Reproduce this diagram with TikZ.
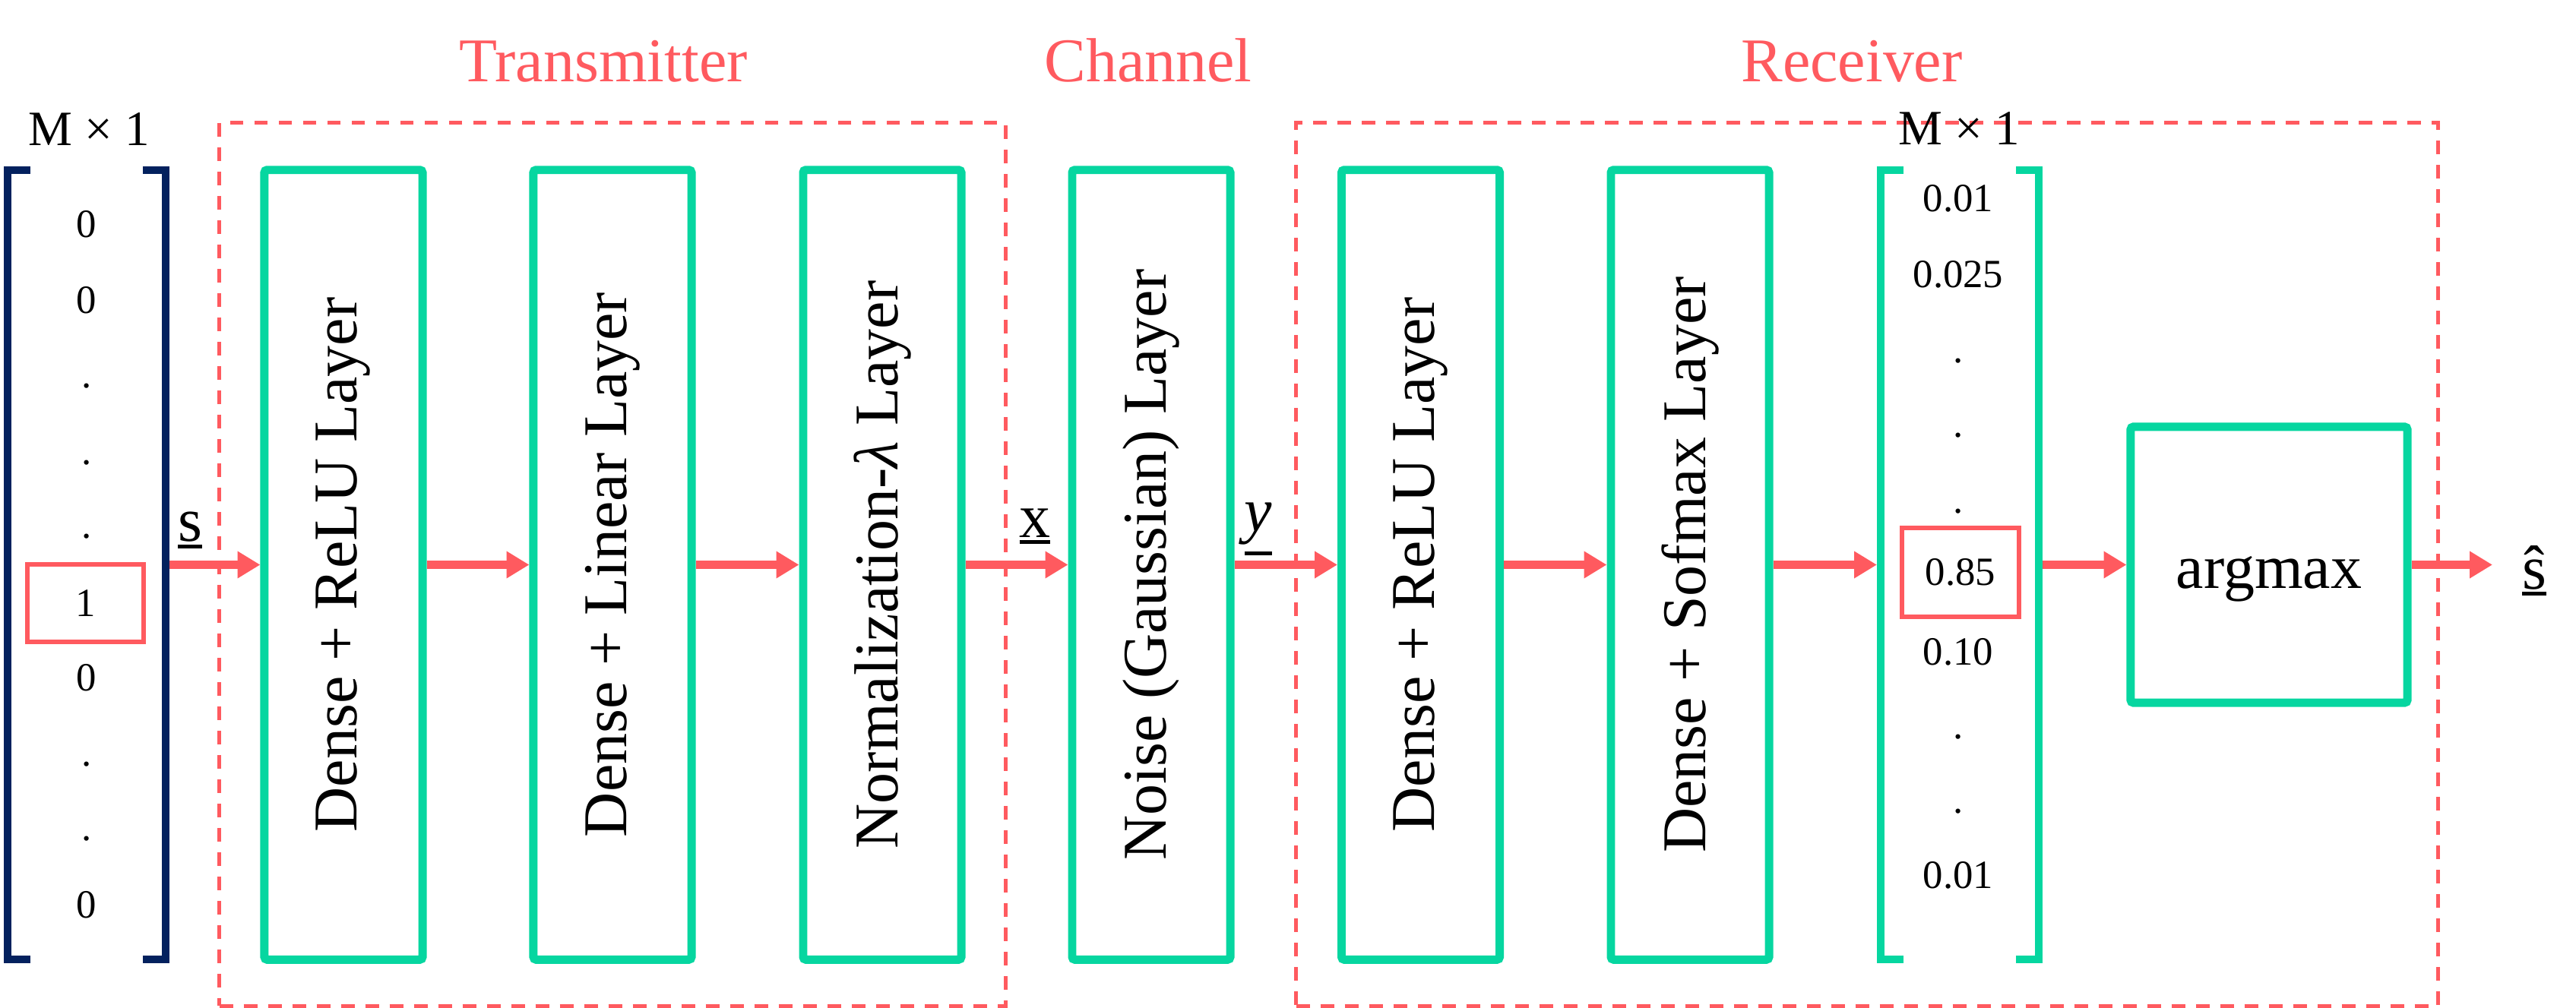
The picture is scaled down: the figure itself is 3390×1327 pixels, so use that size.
\documentclass[tikz,border=0pt]{standalone}
\usepackage{fontspec}
\usepackage{graphicx}
\setmainfont{Liberation Serif}
\usetikzlibrary{arrows.meta}
\definecolor{tgreen}{HTML}{06D6A0}
\definecolor{tred}{HTML}{FF5A5F}
\definecolor{tnavy}{HTML}{03215E}
\newcommand{\myul}[2][1.2pt]{\setbox0=\hbox{#2}\dimen0=\dp0 \advance\dimen0 by #1\relax\dimen2=\dimen0 \advance\dimen2 by 1.4pt\relax\leavevmode\rlap{\vrule height -\dimen0 depth \dimen2 width \wd0}\box0}
\newcommand{\shat}{\ooalign{s\cr\hidewidth\char"02C6\hidewidth\cr}}
\newcommand{\bigfont}{\fontsize{23.3}{28}\selectfont}
\newcommand{\entfont}{\fontsize{15}{18}\selectfont}
\newcommand{\dimfont}{\fontsize{18.5}{22}\selectfont}
\tikzset{
  layer/.style={draw=tgreen, line width=3.1pt, rounded corners=1pt, minimum width=2.08cm, minimum height=10.39cm, inner sep=0pt, font=\bigfont},
  group/.style={draw=tred, line width=1.42pt, dash pattern=on 5.1pt off 4pt, inner sep=0pt},
  conn/.style={draw=tred, line width=3.1pt, -{Triangle[length=8.5pt,width=9.6pt]}},
  vecbox/.style={inner sep=0pt, outer sep=0pt, minimum width=2.08cm, minimum height=10.39cm},
  entry/.style={anchor=base, inner sep=0pt, font=\entfont},
  hl/.style={draw=tred, line width=1.7pt, inner sep=0pt, font=\entfont},
  title/.style={anchor=base, inner sep=0pt, text=tred, font=\bigfont},
  dimlbl/.style={anchor=base, inner sep=0pt, font=\dimfont},
  lbl/.style={anchor=base, inner sep=0pt, font=\bigfont},
}
\begin{document}
\begin{tikzpicture}[x=0.01cm, y=-0.01cm]
\useasboundingbox (0,0) rectangle (3390,1327);
% group frames
\node[group, minimum width=10.34cm, minimum height=11.62cm] (tx) at (806,743) {};
\node[group, minimum width=15.02cm, minimum height=11.62cm] (rx) at (2457,743) {};
\node[title] (ttx) at (794,107) {Transmitter};
\node[title] (tch) at (1511,107) {Channel};
\node[title] (trx) at (2437,107) {Receiver};
% vectors
\node[vecbox] (vin) at (114,743.5) {};
\node[vecbox] (vout) at (2579,743.5) {};
\node[dimlbl] (din) at (117,191) {M × 1};
\node[dimlbl] (dout) at (2578,190) {M × 1};
% layers
\node[layer] (b1) at (452,743.5) {\rotatebox{90}{Dense + ReLU Layer}};
\node[layer] (b2) at (806,743.5) {\rotatebox{90}{Dense + Linear Layer}};
\node[layer] (b3) at (1161,743.5) {\rotatebox{90}{Normalization-\textit{λ} Layer}};
\node[layer] (b4) at (1515,743.5) {\rotatebox{90}{Noise (Gaussian) Layer}};
\node[layer] (b5) at (1869.5,743.5) {\rotatebox{90}{Dense + ReLU Layer}};
\node[layer] (b6) at (2224,743.5) {\rotatebox{90}{Dense + Sofmax Layer}};
\node[layer, minimum width=3.64cm, minimum height=3.63cm, text height=0.62cm, text depth=0cm] (am) at (2986,743.5) {argmax};
\coordinate (out) at (3280,743.5);
% connectors
\draw[conn] ([xshift=0.05cm]vin.east) -- (b1.west);
\draw[conn] (b1.east) -- (b2.west);
\draw[conn] (b2.east) -- (b3.west);
\draw[conn] (b3.east) -- (b4.west);
\draw[conn] (b4.east) -- (b5.west);
\draw[conn] (b5.east) -- (b6.west);
\draw[conn] (b6.east) -- ([xshift=-0.05cm]vout.west);
\draw[conn] ([xshift=0.05cm]vout.east) -- (am.west);
\draw[conn] (am.east) -- (out);
% brackets
\draw[tnavy, line width=2.85pt] ([xshift=0.3cm]vin.north west) -- (vin.north west) -- (vin.south west) -- ([xshift=0.3cm]vin.south west);
\draw[tnavy, line width=2.85pt] ([xshift=-0.3cm]vin.north east) -- (vin.north east) -- (vin.south east) -- ([xshift=-0.3cm]vin.south east);
\draw[tgreen, line width=2.85pt] ([xshift=0.3cm]vout.north west) -- (vout.north west) -- (vout.south west) -- ([xshift=0.3cm]vout.south west);
\draw[tgreen, line width=2.85pt] ([xshift=-0.3cm]vout.north east) -- (vout.north east) -- (vout.south east) -- ([xshift=-0.3cm]vout.south east);
% labels
\node[lbl] (ls) at (250,712) {\myul{s}};
\node[lbl] (lx) at (1362,707) {\myul{x}};
\node[lbl] (ly) at (1656,699) {\myul[2.6pt]{\textit{y}}};
\node[lbl] (lsh) at (3335,775) {\myul{\shat}};
% left entries
\node[entry] (l1) at (114,312) {0};
\node[entry] (l2) at (114,412) {0};
\node[entry] (l3) at (114,510) {.};
\node[entry] (l4) at (114,611) {.};
\node[entry] (l5) at (114,708) {.};
\node[hl, minimum width=1.53cm, minimum height=1.02cm] (l6) at (112.5,794) {1};
\node[entry] (l7) at (114,909) {0};
\node[entry] (l8) at (114,1008) {.};
\node[entry] (l9) at (114,1106) {.};
\node[entry] (l10) at (114,1208) {0};
% right entries
\node[entry] (r1) at (2577,278) {0.01};
\node[entry] (r2) at (2577,378) {0.025};
\node[entry] (r3) at (2577,477) {.};
\node[entry] (r4) at (2577,575) {.};
\node[entry] (r5) at (2577,675) {.};
\node[hl, minimum width=1.54cm, minimum height=1.17cm] (r6) at (2580,753.5) {0.85};
\node[entry] (r7) at (2577,875) {0.10};
\node[entry] (r8) at (2577,972) {.};
\node[entry] (r9) at (2577,1070) {.};
\node[entry] (r10) at (2577,1169) {0.01};
\end{tikzpicture}
\end{document}
